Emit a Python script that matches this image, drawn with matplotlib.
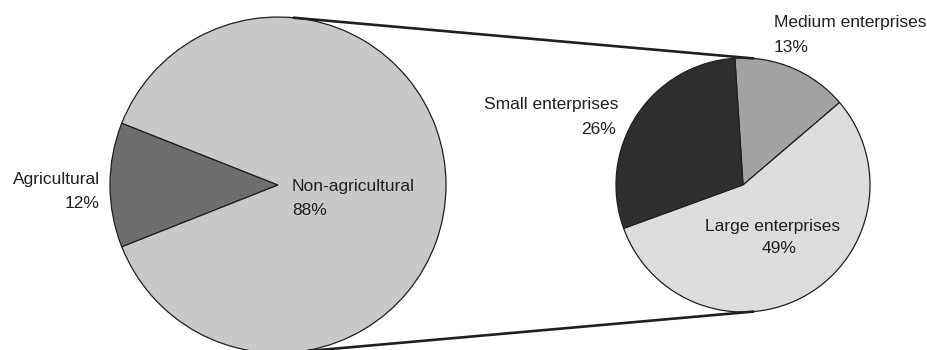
import numpy as np
import matplotlib
matplotlib.use("Agg")
import matplotlib.pyplot as plt

plt.rcParams['font.family'] = ['Liberation Sans', 'DejaVu Sans']

# Employment split (share of total, %)
main_labels = ["Agricultural", "Non-agricultural"]
main_values = [12, 88]
main_colors = ["#6d6e70", "#c7c8ca"]

# Breakdown of the non-agricultural share by enterprise size (share of total, %)
sub_labels = ["Medium enterprises", "Small enterprises", "Large enterprises"]
sub_values = [13, 26, 49]
sub_colors = ["#a1a2a4", "#2f2d2e", "#dcdddf"]

INK = "#231f20"
W, H = 928, 350

fig = plt.figure(figsize=(W / 100, H / 100), dpi=100)
ax = fig.add_axes([0, 0, 1, 1])

main_center, main_r = (278, 165), 168
sub_center, sub_r = (743, 165), 127

wp = dict(edgecolor=INK, linewidth=0.9)
main_start = 180 - main_values[0] / sum(main_values) * 360 / 2
ax.pie(main_values, colors=main_colors, center=main_center, radius=main_r,
       startangle=main_start, counterclock=True, wedgeprops=wp, frame=True)
ax.pie(sub_values, colors=sub_colors, center=sub_center, radius=sub_r,
       startangle=40.5, counterclock=True, wedgeprops=wp, frame=True)

# External tangent lines joining the two pies
c1, c2 = np.array(main_center, float), np.array(sub_center, float)
d = np.linalg.norm(c2 - c1)
phi = np.arcsin((main_r - sub_r) / d)
base = np.arctan2(*(c2 - c1)[::-1])
for sgn in (1, -1):
    ang = base + sgn * (np.pi / 2 - phi)
    n = np.array([np.cos(ang), np.sin(ang)])
    p1, p2 = c1 + main_r * n, c2 + sub_r * n
    ax.plot([p1[0], p2[0]], [p1[1], p2[1]], color=INK, lw=1.9,
            solid_capstyle='butt', zorder=5)

fs = 12.5
def label(x, y_img, text, ha):
    ax.text(x, H - y_img, text, ha=ha, va='baseline', fontsize=fs, color=INK,
            zorder=6)

label(100, 184, main_labels[0], 'right')
label(100, 208, f"{main_values[0]}%", 'right')
label(292, 191, main_labels[1], 'left')
label(292, 215, f"{main_values[1]}%", 'left')

label(774, 27, sub_labels[0], 'left')
label(774, 52, f"{sub_values[0]}%", 'left')
label(618, 109, sub_labels[1], 'right')
label(616, 134, f"{sub_values[1]}%", 'right')
label(773, 231, sub_labels[2], 'center')
label(779, 253, f"{sub_values[2]}%", 'center')

ax.set_xlim(0, W)
ax.set_ylim(0, H)
ax.axis('off')

fig.savefig("out.png", dpi=100, facecolor='white')
